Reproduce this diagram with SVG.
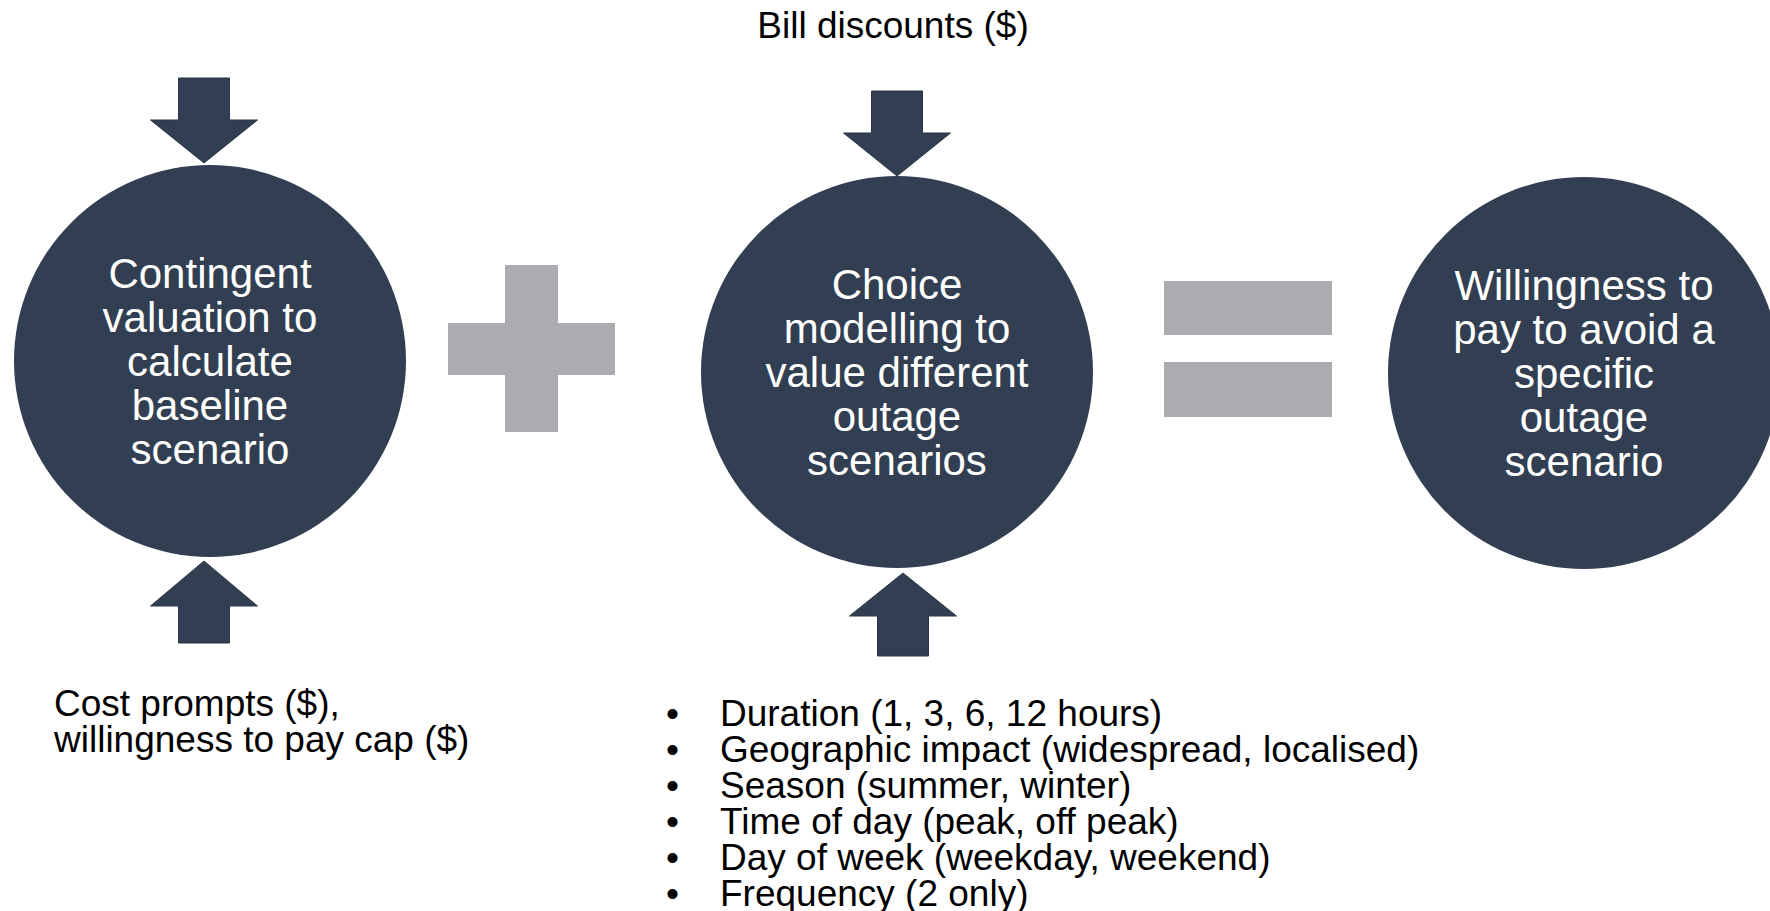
<svg xmlns="http://www.w3.org/2000/svg" width="1770" height="911" viewBox="0 0 1770 911">
<style>
text{font-family:"Liberation Sans",Arial,sans-serif}
.node{fill:#323F52}
.nt{fill:#FFFFFF;font-size:42px;text-anchor:middle}
.lbl{fill:#000000;font-size:37px}
.arrow{fill:#323F52;stroke:#2A3646;stroke-width:1}
.op{fill:#ABACAF}
</style>
<rect width="1770" height="911" fill="#FFFFFF"/>
<g id="connectors">
<polygon class="arrow" points="178.5,78 229.5,78 229.5,120 257.5,120 204,163 150.5,120 178.5,120"/>
<polygon class="arrow" points="204,561 257.5,606 229.5,606 229.5,643 178.5,643 178.5,606 150.5,606"/>
<polygon class="arrow" points="871.5,91 922.5,91 922.5,133 950.5,133 897,176 843.5,133 871.5,133"/>
<polygon class="arrow" points="903,573 956.5,616 928.5,616 928.5,656 877.5,656 877.5,616 849.5,616"/>
</g>
<g id="plus">
<rect class="op" x="505" y="265" width="53" height="167"/>
<rect class="op" x="448" y="323" width="167" height="52"/>
</g>
<g id="equals">
<rect class="op" x="1164" y="281" width="168" height="54"/>
<rect class="op" x="1164" y="362" width="168" height="55"/>
</g>
<g id="node-contingent">
<circle class="node" cx="210" cy="361" r="196"/>
<text class="nt" x="210" y="288">Contingent</text>
<text class="nt" x="210" y="332">valuation to</text>
<text class="nt" x="210" y="376">calculate</text>
<text class="nt" x="210" y="420">baseline</text>
<text class="nt" x="210" y="464">scenario</text>
</g>
<g id="node-choice">
<circle class="node" cx="897" cy="372" r="196"/>
<text class="nt" x="897" y="299">Choice</text>
<text class="nt" x="897" y="343">modelling to</text>
<text class="nt" x="897" y="387">value different</text>
<text class="nt" x="897" y="431">outage</text>
<text class="nt" x="897" y="475">scenarios</text>
</g>
<g id="node-wtp">
<circle class="node" cx="1584" cy="373" r="196"/>
<text class="nt" x="1584" y="300">Willingness to</text>
<text class="nt" x="1584" y="344">pay to avoid a</text>
<text class="nt" x="1584" y="388">specific</text>
<text class="nt" x="1584" y="432">outage</text>
<text class="nt" x="1584" y="476">scenario</text>
</g>
<g id="label-bill">
<text class="lbl" x="893" y="38" text-anchor="middle">Bill discounts ($)</text>
</g>
<g id="label-cost">
<text class="lbl" x="54" y="716">Cost prompts ($),</text>
<text class="lbl" x="54" y="752">willingness to pay cap ($)</text>
</g>
<g id="label-attributes">
<text class="lbl" x="666" y="726">•</text><text class="lbl" x="720" y="726">Duration (1, 3, 6, 12 hours)</text>
<text class="lbl" x="666" y="762">•</text><text class="lbl" x="720" y="762">Geographic impact (widespread, localised)</text>
<text class="lbl" x="666" y="798">•</text><text class="lbl" x="720" y="798">Season (summer, winter)</text>
<text class="lbl" x="666" y="834">•</text><text class="lbl" x="720" y="834">Time of day (peak, off peak)</text>
<text class="lbl" x="666" y="870">•</text><text class="lbl" x="720" y="870">Day of week (weekday, weekend)</text>
<text class="lbl" x="666" y="906">•</text><text class="lbl" x="720" y="906">Frequency (2 only)</text>
</g>
</svg>
